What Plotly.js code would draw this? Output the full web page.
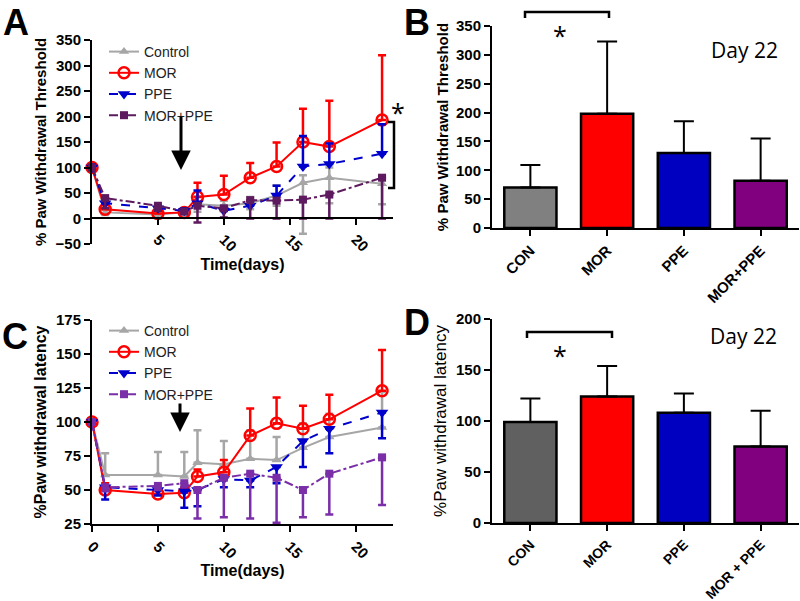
<!DOCTYPE html>
<html>
<head>
<meta charset="utf-8">
<script src="https://cdn.plot.ly/plotly-3.0.1.min.js"></script>
<style>html,body{margin:0;padding:0;background:#fff}#chart{width:800px;height:601px}</style>
</head>
<body>
<div id="chart"></div>
<script>
// ---------- DATA ----------
const days = [0, 1, 5, 7, 8, 10, 12, 14, 16, 18, 22];
const lineGroups = ['Control', 'MOR', 'PPE', 'MOR+PPE'];

// Panel A: % paw withdrawal threshold over time
const thrControl      = [100, 12, 8, 12, 28, 25, 30, 45, 70, 80, 68];
const thrControlUp    = [5, 5, 8, 6, 15, 10, 12, 20, 15, 20, 15];
const thrControlDown  = [5, 5, 8, 6, 15, 10, 12, 20, 100, 50, 40];
const thrMOR          = [100, 18, 10, 12, 42, 47, 80, 102, 150, 141, 193];
const thrMORUp        = [5, 8, 5, 5, 28, 37, 29, 47, 65, 90, 127];
const thrPPE          = [100, 30, 20, 15, 30, 15, 25, 45, 102, 107, 127];
const thrPPEUp        = [6, 5, 5, 5, 25, 8, 10, 19, 60, 40, 58];
const thrMORPPE       = [100, 40, 25, 14, 25, 20, 36, 35, 37, 47, 80];
const thrMORPPEDown   = [5, 20, 10, 5, 33, 18, 36, 35, 37, 47, 80];

// Panel C: % paw withdrawal latency over time
const latControl      = [100, 61, 61, 60, 70, 69, 73, 72, 81, 89, 96];
const latControlUp    = [2, 16, 17, 18, 24, 17, 21, 17, 18, 17, 26];
const latMOR          = [100, 50, 47, 48, 60, 63, 90, 99, 95, 102, 123];
const latMORUp        = [2, 5, 4, 4, 5, 9, 20, 19, 17, 18, 30];
const latPPE          = [100, 52, 50, 49, 50, 58, 57, 67, 86, 95, 107];
const latPPEDown      = [2, 9, 4, 12, 12, 6, 5, 12, 19, 18, 19];
const latMORPPE       = [100, 52, 53, 55, 50, 59, 62, 59, 50, 62, 74];
const latMORPPEDown   = [2, 3, 3, 3, 21, 29, 33, 33, 20, 30, 35];

// Panel B: threshold at day 22
const barCatsB = ['CON', 'MOR', 'PPE', 'MOR+PPE'];
const barValsB = [70, 198, 130, 82];
const barErrB  = [39, 125, 55, 73];
// Panel D: latency at day 22
const barCatsD = ['CON', 'MOR', 'PPE', 'MOR + PPE'];
const barValsD = [99, 124, 108, 75];
const barErrD  = [23, 30, 19, 35];

// ---------- HELPERS ----------
const W = 800, H = 601;
const px = v => v / W;
const py = v => 1 - v / H;
const zeros = n => new Array(n).fill(0);
const FONT = '"Liberation Sans", Arial, sans-serif';
const FONT2 = '"Open Sans", "Noto Sans", sans-serif';

const cGray = '#a6a6a6', cRed = '#ff0000', cBlue = '#0000cd';
const cPurpA = '#5e1a5e', cPurpC = '#7a2ea8';

function lineTrace(name, y, up, down, color, dash, symbol, msize, xa, ya, legend, mline) {
  return {
    type: 'scatter', mode: 'lines+markers', name: name, x: days, y: y,
    xaxis: xa, yaxis: ya, legend: legend, cliponaxis: false,
    line: {color: color, width: 2, dash: dash},
    marker: {symbol: symbol, size: msize, color: color, line: {color: color, width: mline || 0}},
    error_y: {type: 'data', symmetric: false, array: up, arrayminus: down,
              color: color, thickness: 2.5, width: 4}
  };
}

const n = days.length;
const traces = [
  // Panel A
  lineTrace('Control', thrControl, thrControlUp, thrControlDown, cGray, 'solid', 'triangle-up', 9, 'x', 'y', 'legend'),
  lineTrace('MOR', thrMOR, thrMORUp, zeros(n), cRed, 'solid', 'circle-open', 11, 'x', 'y', 'legend', 2.5),
  lineTrace('PPE', thrPPE, thrPPEUp, zeros(n), cBlue, 'dash', 'triangle-down', 11, 'x', 'y', 'legend'),
  lineTrace('MOR+PPE', thrMORPPE, zeros(n), thrMORPPEDown, cPurpA, 'dashdot', 'square', 8, 'x', 'y', 'legend'),
  // Panel C
  lineTrace('Control', latControl, latControlUp, zeros(n), cGray, 'solid', 'triangle-up', 9, 'x3', 'y3', 'legend2'),
  lineTrace('MOR', latMOR, latMORUp, zeros(n), cRed, 'solid', 'circle-open', 11, 'x3', 'y3', 'legend2', 2.5),
  lineTrace('PPE', latPPE, zeros(n), latPPEDown, cBlue, 'dash', 'triangle-down', 11, 'x3', 'y3', 'legend2'),
  lineTrace('MOR+PPE', latMORPPE, zeros(n), latMORPPEDown, cPurpC, 'dashdot', 'square', 8, 'x3', 'y3', 'legend2'),
  // Panel B
  {type: 'bar', x: barCatsB, y: barValsB, xaxis: 'x2', yaxis: 'y2', showlegend: false, width: 0.68,
   marker: {color: ['#808080', '#ff0000', '#0000c0', '#800080'], line: {color: '#000', width: 2.5}},
   error_y: {type: 'data', symmetric: false, array: barErrB, arrayminus: zeros(4), color: '#000', thickness: 2, width: 10}},
  // Panel D
  {type: 'bar', x: barCatsD, y: barValsD, xaxis: 'x4', yaxis: 'y4', showlegend: false, width: 0.68,
   marker: {color: ['#606060', '#ff0000', '#0000c0', '#800080'], line: {color: '#000', width: 2.5}},
   error_y: {type: 'data', symmetric: false, array: barErrD, arrayminus: zeros(4), color: '#000', thickness: 2, width: 10}}
];

const tickFont = {family: FONT, size: 15, color: '#000', weight: 'bold'};
const axBase = {showline: true, linecolor: '#000', linewidth: 2, ticks: 'outside', ticklen: 6,
                tickwidth: 2, tickcolor: '#000', showgrid: false, zeroline: false, tickfont: tickFont};

function ann(text, x, y, font) {
  return {text: text, xref: 'paper', yref: 'paper', x: px(x), y: py(y), xanchor: 'center', yanchor: 'middle',
          showarrow: false, font: font};
}
const letterFont = {family: FONT, size: 36, weight: 'bold', color: '#000'};
const dayFont = {family: FONT2, size: 21, color: '#000'};
const starFont = {family: FONT2, size: 25, color: '#000'};

const layout = {
  width: W, height: H, margin: {l: 0, r: 0, t: 0, b: 0},
  paper_bgcolor: '#fff', plot_bgcolor: 'rgba(0,0,0,0)',
  font: {family: FONT, color: '#000'},
  showlegend: true,
  xaxis: Object.assign({}, axBase, {
    domain: [px(92), px(393)], range: [0, 22.83], anchor: 'free', position: py(218),
    tickvals: [5, 10, 15, 20], tickangle: 45,
    title: {text: 'Time(days)', font: {family: FONT, size: 16, weight: 'bold'}, standoff: 4}
  }),
  yaxis: Object.assign({}, axBase, {
    domain: [py(244), py(40)], range: [-50, 350], dtick: 50, anchor: 'x',
    title: {text: '% Paw Withdrawal Threshold', font: {family: FONT, size: 15, weight: 'bold'}, standoff: 5}
  }),
  xaxis2: Object.assign({}, axBase, {
    domain: [px(492), px(799)], range: [-0.5, 3.5], anchor: 'y2', type: 'category', tickangle: -45
  }),
  yaxis2: Object.assign({}, axBase, {
    domain: [py(228), py(26)], range: [0, 350], dtick: 50, anchor: 'x2',
    title: {text: '% Paw Withdrawal Threshold', font: {family: FONT, size: 15, weight: 'bold'}, standoff: 4}
  }),
  xaxis3: Object.assign({}, axBase, {
    domain: [px(92), px(393)], range: [0, 22.83], anchor: 'y3',
    tickvals: [0, 5, 10, 15, 20], tickangle: 45,
    title: {text: 'Time(days)', font: {family: FONT, size: 16, weight: 'bold'}, standoff: 4}
  }),
  yaxis3: Object.assign({}, axBase, {
    domain: [py(524), py(320)], range: [25, 175], dtick: 25, anchor: 'x3',
    title: {text: '%Paw withdrawal latency', font: {family: FONT, size: 16, weight: 'bold'}, standoff: 5}
  }),
  xaxis4: Object.assign({}, axBase, {
    domain: [px(492), px(799)], range: [-0.5, 3.5], anchor: 'y4', type: 'category', tickangle: -45,
    tickfont: {family: FONT, size: 14, color: '#000', weight: 'bold'}
  }),
  yaxis4: Object.assign({}, axBase, {
    domain: [py(523), py(319)], range: [0, 200], dtick: 50, anchor: 'x4',
    title: {text: '%Paw withdrawal latency', font: {family: FONT, size: 17}, standoff: 5}
  }),
  legend: {x: px(104), y: py(36), xanchor: 'left', yanchor: 'top', bgcolor: 'rgba(0,0,0,0)',
           font: {family: FONT, size: 14, color: '#222'}, tracegroupgap: 0, itemwidth: 30},
  legend2: {x: px(104), y: py(315), xanchor: 'left', yanchor: 'top', bgcolor: 'rgba(0,0,0,0)',
            font: {family: FONT, size: 14, color: '#222'}, tracegroupgap: 0, itemwidth: 30},
  shapes: [
    // A bracket
    {type: 'path', xref: 'paper', yref: 'paper',
     path: `M ${px(388)} ${py(122)} L ${px(394)} ${py(122)} L ${px(394)} ${py(188)} L ${px(388)} ${py(188)}`,
     line: {color: '#000', width: 2.5}},
    // B bracket
    {type: 'path', xref: 'paper', yref: 'paper',
     path: `M ${px(525)} ${py(18)} L ${px(525)} ${py(12)} L ${px(609)} ${py(12)} L ${px(609)} ${py(18)}`,
     line: {color: '#000', width: 2.5}},
    // D bracket
    {type: 'path', xref: 'paper', yref: 'paper',
     path: `M ${px(527)} ${py(338)} L ${px(527)} ${py(332)} L ${px(612)} ${py(332)} L ${px(612)} ${py(338)}`,
     line: {color: '#000', width: 2.5}}
  ],
  annotations: [
    ann('A', 16, 23, letterFont),
    ann('B', 417, 23, letterFont),
    ann('C', 15, 337, letterFont),
    ann('D', 417, 322, letterFont),
    ann('Day 22', 744, 50, dayFont),
    ann('Day 22', 743, 336, dayFont),
    ann('*', 560, 35, starFont),
    ann('*', 560, 355, starFont),
    ann('*', 398, 112, starFont),
    // arrows marking day 7
    {text: '', xref: 'paper', yref: 'paper', x: px(181), y: py(170), ax: 0, ay: -55, showarrow: true,
     arrowhead: 2, arrowsize: 1.3, arrowwidth: 3, arrowcolor: '#000'},
    {text: '', xref: 'paper', yref: 'paper', x: px(180), y: py(432), ax: 0, ay: -30, showarrow: true,
     arrowhead: 2, arrowsize: 1.3, arrowwidth: 3, arrowcolor: '#000'}
  ]
};

Plotly.newPlot('chart', traces, layout, {displayModeBar: false, staticPlot: true});
</script>
</body>
</html>
